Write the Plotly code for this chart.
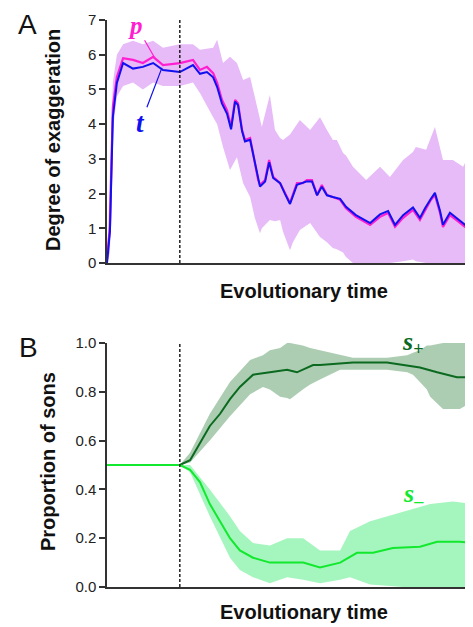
import plotly.graph_objects as go

# ---------------- data ----------------
switch_time = 199  # dashed line: onset of sex-ratio evolution

# Panel A: exaggeration of preference (p) and trait (t)
time_A = [0, 8, 16, 27, 44, 71, 98, 126, 153, 199, 235, 254, 273, 290, 301, 314, 328, 339, 350, 358,
          369, 377, 391, 399, 413, 418, 432, 443, 454, 473, 486, 500, 519, 535, 546, 560, 574, 587, 601, 617,
          637, 653, 680, 719, 746, 768, 787, 809, 836, 855, 869, 885, 896, 910, 918, 937, 954, 978, 992, 1000]
p_vals = [0.1, 1.04, 4.5, 5.36, 5.9, 5.85, 5.76, 5.94, 5.7, 5.76, 5.85, 5.56, 5.65, 5.47, 5.19, 4.7, 4.4, 3.92, 4.7, 4.6,
          3.83, 3.54, 3.6, 3.17, 2.39, 2.25, 2.39, 2.97, 2.48, 2.3, 2.02, 1.73, 2.3, 2.3, 2.39, 2.39, 1.96, 2.25, 1.96, 1.9,
          1.82, 1.58, 1.33, 1.1, 1.33, 1.44, 1.04, 1.3, 1.53, 1.24, 1.53, 1.82, 1.96, 1.44, 1.04, 1.38, 1.24, 1.04, 1.15, 1.38]
t_vals = [0.0, 0.9, 4.2, 5.19, 5.76, 5.6, 5.65, 5.76, 5.56, 5.5, 5.7, 5.45, 5.5, 5.35, 5.07, 4.6, 4.3, 3.85, 4.65, 4.55,
          3.8, 3.5, 3.55, 3.15, 2.4, 2.2, 2.35, 2.9, 2.45, 2.3, 2.0, 1.7, 2.25, 2.3, 2.35, 2.35, 1.95, 2.2, 1.95, 1.9,
          1.85, 1.62, 1.38, 1.15, 1.4, 1.5, 1.1, 1.38, 1.6, 1.3, 1.58, 1.85, 2.02, 1.5, 1.1, 1.45, 1.3, 1.1, 1.2, 1.45]

band_time_A = [0, 8, 16, 27, 44, 71, 98, 126, 153, 199, 235, 254, 290, 301, 317, 336, 355, 372, 391, 399,
               404, 418, 423, 445, 459, 473, 481, 500, 508, 527, 555, 582, 601, 617, 628, 645, 653, 672, 708, 746,
               773, 809, 836, 844, 872, 896, 918, 945, 973, 1000]
band_upper_A = [0.0, 2.5, 5.2, 6.0, 6.3, 6.4, 6.3, 6.4, 6.2, 6.3, 6.3, 6.14, 6.2, 6.43, 5.76, 5.94, 5.76, 5.27, 5.36, 5.0,
                4.78, 4.2, 3.92, 4.84, 3.83, 3.6, 3.54, 3.7, 3.83, 4.12, 3.83, 4.2, 3.83, 3.54, 3.54, 3.17, 3.1, 2.77, 2.39, 2.77,
                2.48, 2.97, 3.2, 3.34, 3.26, 3.92, 2.97, 2.97, 2.77, 3.34]
band_lower_A = [0.0, 0.3, 3.8, 4.8, 5.1, 5.2, 5.0, 5.2, 5.1, 5.1, 5.2, 4.9, 4.2, 4.0, 3.34, 2.68, 3.05, 2.3, 1.9, 1.53,
                1.3, 0.86, 1.0, 1.24, 1.2, 1.24, 0.9, 0.37, 0.6, 0.95, 1.15, 0.75, 0.6, 0.43, 0.4, 0.3, 0.17, 0.0, 0.0, 0.0,
                0.0, 0.05, 0.1, 0.05, 0.0, 0.0, 0.0, 0.0, 0.0, 0.0]

# Panel B: proportion of sons
time_splus = [0, 199, 227, 254, 281, 309, 336, 363, 399, 445, 492, 519, 563, 582, 672, 765, 809, 855, 902, 956, 1000]
splus_vals = [0.5, 0.5, 0.52, 0.59, 0.66, 0.71, 0.77, 0.82, 0.87, 0.88, 0.89, 0.88, 0.91, 0.91, 0.92, 0.92, 0.91, 0.90, 0.88, 0.86, 0.86]
band_time_splus = [199, 227, 281, 336, 391, 426, 445, 473, 492, 500, 535, 555, 582, 637, 672, 765, 820, 836, 855, 874,
                   883, 918, 945, 964, 1000]
splus_upper = [0.5, 0.55, 0.71, 0.84, 0.93, 0.95, 0.97, 0.98, 1.0, 1.0, 0.99, 0.98, 0.97, 0.95, 0.94, 0.94, 0.95, 0.96, 0.97, 0.99,
               0.99, 1.0, 1.0, 1.0, 1.0]
splus_lower = [0.5, 0.51, 0.6, 0.70, 0.79, 0.82, 0.81, 0.78, 0.775, 0.77, 0.81, 0.83, 0.85, 0.89, 0.89, 0.89, 0.88, 0.87, 0.84, 0.81,
               0.78, 0.73, 0.73, 0.73, 0.76]

time_sminus = [0, 199, 227, 254, 281, 309, 336, 363, 399, 445, 492, 536, 582, 637, 683, 727, 781, 855, 902, 964, 1000]
sminus_vals = [0.5, 0.5, 0.48, 0.43, 0.34, 0.27, 0.2, 0.15, 0.12, 0.10, 0.10, 0.10, 0.08, 0.10, 0.14, 0.14, 0.16, 0.165, 0.185, 0.185, 0.18]
band_time_sminus = [199, 227, 281, 336, 363, 399, 445, 492, 536, 582, 637, 664, 719, 809, 883, 945, 1000]
sminus_upper = [0.5, 0.5, 0.40, 0.29, 0.23, 0.18, 0.17, 0.2, 0.2, 0.15, 0.15, 0.23, 0.27, 0.31, 0.34, 0.35, 0.34]
sminus_lower = [0.5, 0.47, 0.29, 0.12, 0.07, 0.04, 0.015, 0.04, 0.03, 0.015, 0.03, 0.04, 0.01, 0.0, 0.0, 0.0, 0.0]

yticks_A = [0, 1, 2, 3, 4, 5, 6, 7]
yticks_B = [0.0, 0.2, 0.4, 0.6, 0.8, 1.0]
yticklabels_B = ["0.0", "0.2", "0.4", "0.6", "0.8", "1.0"]

# ---------------- styles ----------------
SANS = "Liberation Sans, Arial, sans-serif"
SERIF = "Liberation Serif, Times New Roman, serif"
PINK = "#ff1fd0"
BLUE = "#1010f0"
VIOLET_BAND = "rgba(222,160,245,0.72)"
DARK_GREEN = "#0b6a1f"
DARK_GREEN_BAND = "rgba(70,145,85,0.45)"
LIGHT_GREEN = "#12e82e"
LIGHT_GREEN_BAND = "rgba(40,230,100,0.42)"

fig = go.Figure()

def band(xs, lo, hi, color, xa, ya):
    fig.add_trace(go.Scatter(x=list(xs) + list(xs)[::-1], y=list(hi) + list(lo)[::-1],
                             fill="toself", fillcolor=color, line=dict(width=0),
                             mode="lines", hoverinfo="skip", showlegend=False,
                             xaxis=xa, yaxis=ya))

# Panel A
band(band_time_A, band_lower_A, band_upper_A, VIOLET_BAND, "x", "y")
fig.add_trace(go.Scatter(x=time_A, y=p_vals, mode="lines", line=dict(color=PINK, width=2.2),
                         showlegend=False, xaxis="x", yaxis="y"))
fig.add_trace(go.Scatter(x=time_A, y=t_vals, mode="lines", line=dict(color=BLUE, width=2),
                         showlegend=False, xaxis="x", yaxis="y"))

# Panel B
band(band_time_splus, splus_lower, splus_upper, DARK_GREEN_BAND, "x2", "y2")
band(band_time_sminus, sminus_lower, sminus_upper, LIGHT_GREEN_BAND, "x2", "y2")
fig.add_trace(go.Scatter(x=time_splus, y=splus_vals, mode="lines", line=dict(color=DARK_GREEN, width=2),
                         showlegend=False, xaxis="x2", yaxis="y2"))
fig.add_trace(go.Scatter(x=time_sminus, y=sminus_vals, mode="lines", line=dict(color=LIGHT_GREEN, width=2),
                         showlegend=False, xaxis="x2", yaxis="y2"))

# dashed switch lines
fig.add_shape(type="line", xref="x", yref="y", x0=switch_time, x1=switch_time, y0=0, y1=max(yticks_A),
              line=dict(color="#111", width=1.4, dash="3px,2px"))
fig.add_shape(type="line", xref="x2", yref="y2", x0=switch_time, x1=switch_time, y0=0, y1=max(yticks_B),
              line=dict(color="#111", width=1.4, dash="3px,2px"))

axis_common = dict(showgrid=False, zeroline=False, showline=True, linecolor="#333")
tickfont = dict(size=15, family=SANS, color="#222")
# the page body has an 8px default margin, so the figure is 8px smaller each way
fig.update_layout(
    width=465, height=619,
    margin=dict(l=99, r=0, t=12, b=40),
    paper_bgcolor="white", plot_bgcolor="white",
    font=dict(family=SANS, color="#222"),
    xaxis=dict(domain=[0, 1], range=[0, 1000], anchor="y", showticklabels=False, ticks="",
               linewidth=2, **axis_common),
    yaxis=dict(domain=[0.5714, 1], range=[0, 7], tickvals=yticks_A, ticks="outside", ticklen=6,
               tickwidth=1.5, tickcolor="#333", linewidth=1.5, tickfont=tickfont,
               anchor="x", **axis_common),
    xaxis2=dict(domain=[0, 1], range=[0, 1000], anchor="y2", showticklabels=False, ticks="",
                linewidth=2, **axis_common),
    yaxis2=dict(domain=[0, 0.4303], range=[0, 1], tickvals=yticks_B, ticktext=yticklabels_B,
                ticks="outside", ticklen=6, tickwidth=1.5, tickcolor="#333", linewidth=1.5,
                tickfont=tickfont, anchor="x2", **axis_common),
)

# helpers: page pixel -> paper fraction (plot area spans x 107..473, y 20..587 on the page)
def px_x(px):
    return (px - 107) / 366.0

def px_y(py):
    return (587 - py) / 567.0

anns = [
    dict(text="A", x=px_x(27), y=px_y(24), font=dict(size=28, family=SANS, color="#111")),
    dict(text="B", x=px_x(28), y=px_y(347), font=dict(size=28, family=SANS, color="#111")),
    dict(text="<b>Degree of exaggeration</b>", x=px_x(53), y=px_y(140), textangle=-90,
         font=dict(size=20, family=SANS, color="#111")),
    dict(text="<b>Proportion of sons</b>", x=px_x(48), y=px_y(461), textangle=-90,
         font=dict(size=20, family=SANS, color="#111")),
    dict(text="<b>Evolutionary time</b>", x=px_x(304), y=px_y(291),
         font=dict(size=20, family=SANS, color="#111")),
    dict(text="<b>Evolutionary time</b>", x=px_x(304), y=px_y(612),
         font=dict(size=20, family=SANS, color="#111")),
    dict(text="<b><i>s</i></b><sub><b>+</b></sub>", x=px_x(413), y=px_y(343),
         font=dict(size=26, family=SERIF, color=DARK_GREEN)),
    dict(text="<b><i>s</i></b><sub><b>\u2013</b></sub>", x=px_x(413), y=px_y(495),
         font=dict(size=26, family=SERIF, color=LIGHT_GREEN)),
]
for a in anns:
    a.update(xref="paper", yref="paper", showarrow=False, xanchor="center", yanchor="middle")
    fig.add_annotation(**a)

# p and t labels with leader lines
fig.add_annotation(x=131, y=5.9, xref="x", yref="y", text="<b><i>p</i></b>",
                   showarrow=True, arrowhead=0, arrowwidth=1.2, arrowcolor=PINK, ax=-19, ay=-33,
                   font=dict(size=25, family=SERIF, color=PINK), standoff=0)
fig.add_annotation(x=150, y=5.62, xref="x", yref="y", text="<b><i>t</i></b>",
                   showarrow=True, arrowhead=0, arrowwidth=1.2, arrowcolor=BLUE, ax=-21, ay=55,
                   font=dict(size=27, family=SERIF, color=BLUE), standoff=0)

fig.write_html("out.html")
